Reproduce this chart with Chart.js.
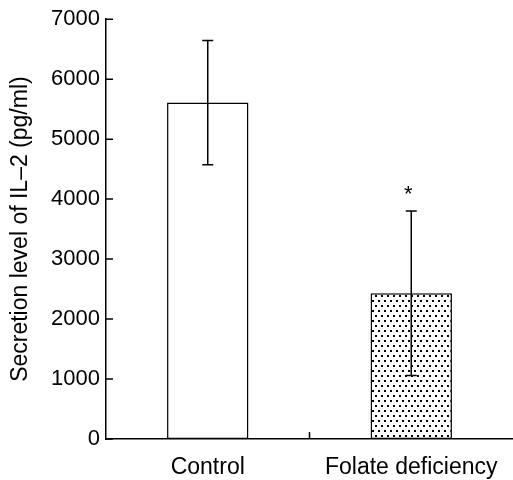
<!DOCTYPE html>
<html>
<head>
<meta charset="utf-8">
<script src="https://cdn.jsdelivr.net/npm/chart.js@4/dist/chart.umd.min.js"></script>
<style>
  body { margin: 0; background: #fff; }
  canvas { display: block; }
</style>
</head>
<body>
<canvas id="il2Chart" width="513" height="480"></canvas>
<script>
  // IL-2 secretion, mean and SD per group
  const groups = ['Control', 'Folate deficiency'];
  const il2Mean = [5610, 2430];
  const il2Sd = [1035, 1370];
  const sigMarks = ['', '*'];
  const yTicks = [0, 1000, 2000, 3000, 4000, 5000, 6000, 7000];

  const FONT = '"Liberation Sans", Arial, Helvetica, sans-serif';

  // stippled fill for the second bar
  function dotPattern() {
    const c = document.createElement('canvas');
    c.width = 6;
    c.height = 10;
    const g = c.getContext('2d');
    g.fillStyle = '#fff';
    g.fillRect(0, 0, 6, 10);
    g.fillStyle = '#000';
    g.fillRect(0, 0, 2, 2);
    g.fillRect(3, 5, 2, 2);
    return g.createPattern(c, 'repeat');
  }

  const ctx = document.getElementById('il2Chart').getContext('2d');

  const extras = {
    id: 'extras',
    afterDatasetsDraw(chart) {
      const c = chart.ctx;
      const y = chart.scales.y;
      const x = chart.scales.x;
      const meta = chart.getDatasetMeta(0);
      c.save();
      c.strokeStyle = '#000';
      c.lineWidth = 1.5;
      meta.data.forEach((bar, i) => {
        const top = y.getPixelForValue(il2Mean[i] + il2Sd[i]);
        const bot = y.getPixelForValue(il2Mean[i] - il2Sd[i]);
        c.beginPath();
        c.moveTo(bar.x, top);
        c.lineTo(bar.x, bot);
        c.moveTo(bar.x - 5.5, top);
        c.lineTo(bar.x + 5.5, top);
        c.moveTo(bar.x - 5.5, bot);
        c.lineTo(bar.x + 5.5, bot);
        c.stroke();
        if (sigMarks[i]) {
          c.fillStyle = '#000';
          c.font = '22px ' + FONT;
          c.textAlign = 'center';
          c.textBaseline = 'middle';
          c.fillText(sigMarks[i], bar.x - 3, top - 16);
        }
      });
      // inward ticks on the value axis
      const left = chart.chartArea.left;
      c.beginPath();
      yTicks.forEach(v => {
        const py = y.getPixelForValue(v);
        c.moveTo(left, py);
        c.lineTo(left + 7, py);
      });
      // divider tick between the two groups
      const mid = (x.getPixelForValue(0) + x.getPixelForValue(1)) / 2;
      c.moveTo(mid, chart.chartArea.bottom);
      c.lineTo(mid, chart.chartArea.bottom - 7);
      c.stroke();
      c.restore();
    }
  };

  new Chart(ctx, {
    type: 'bar',
    data: {
      labels: groups,
      datasets: [{
        data: il2Mean,
        backgroundColor: ['#fff', dotPattern()],
        borderColor: '#000',
        borderWidth: 1.5,
        borderSkipped: false,
        categoryPercentage: 1,
        barPercentage: 0.4
      }]
    },
    options: {
      responsive: false,
      animation: false,
      layout: { padding: { top: 19, right: 0, left: 0, bottom: 0 } },
      plugins: {
        legend: { display: false },
        tooltip: { enabled: false }
      },
      scales: {
        x: {
          grid: { display: false, drawTicks: false },
          border: { display: true, color: '#000', width: 1.5 },
          ticks: {
            color: '#000',
            padding: 15,
            font: { family: FONT, size: 23 }
          },
          afterFit(scale) { scale.height = 41; }
        },
        y: {
          min: 0,
          max: 7000,
          afterBuildTicks(scale) {
            scale.ticks = yTicks.map(v => ({ value: v }));
          },
          grid: { display: false, drawTicks: false },
          border: { display: true, color: '#000', width: 1.5 },
          ticks: {
            color: '#000',
            padding: 6,
            font: { family: FONT, size: 22 },
            callback: v => String(v)
          },
          title: {
            display: true,
            text: 'Secretion level of IL–2 (pg/ml)',
            color: '#000',
            font: { family: FONT, size: 23 },
            padding: { top: 7, bottom: 0 }
          },
          afterFit(scale) { scale.width = 106; }
        }
      }
    },
    plugins: [extras]
  });
</script>
</body>
</html>
